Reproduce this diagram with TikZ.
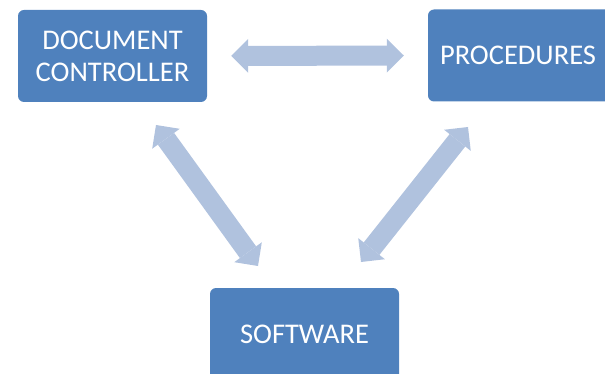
\documentclass[tikz,border=0pt]{standalone}
\usepackage{fontspec}
\setmainfont{Carlito}
\usetikzlibrary{arrows.meta}
\definecolor{boxblue}{HTML}{4F81BD}
\definecolor{linkblue}{HTML}{B0C2DE}
\tikzset{
  unitbox/.style={fill=boxblue, rounded corners=6pt, minimum width=189pt,
    minimum height=92pt, inner sep=0pt, text=white, align=center,
    font=\fontsize{28.5}{32}\selectfont},
  blocklink/.style={draw=linkblue, line width=20pt,
    {Triangle[length=17pt,width=34pt,line width=0pt,fill=linkblue]}-{Triangle[length=17pt,width=34pt,line width=0pt,fill=linkblue]}}
}
\begin{document}
\begin{tikzpicture}[x=1pt,y=-1pt]
\useasboundingbox (0,0) rectangle (605,374);
\clip (0,0) rectangle (605,374);
\node[unitbox] (dc) at (112.5,56) {DOCUMENT\\CONTROLLER};
\node[unitbox] (proc) at (522.5,55.5) {PROCEDURES\hspace*{9pt}};
\node[unitbox] (soft) at (304.5,334) {SOFTWARE};
% free ends of the diagonal links
\coordinate (l1) at (156,125);
\coordinate (l2) at (258,266);
\coordinate (r1) at (468,127);
\coordinate (r2) at (361,262);
\draw[blocklink, shorten <=24pt, shorten >=24pt] (dc.east) -- (proc.west);
\draw[blocklink] (l1) -- (l2);
\draw[blocklink] (r1) -- (r2);
\end{tikzpicture}
\end{document}
